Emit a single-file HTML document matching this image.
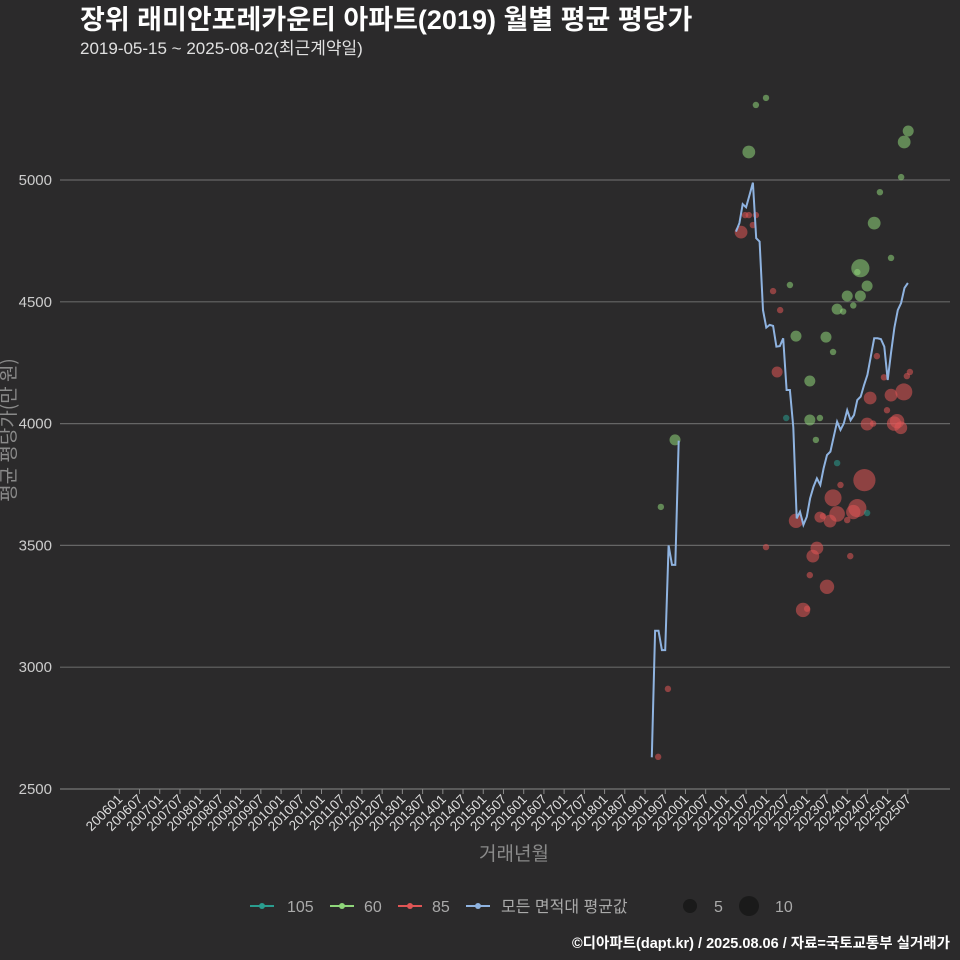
<!DOCTYPE html>
<html><head><meta charset="utf-8"><style>
body{margin:0;background:#2b2a2b;}
svg{display:block;font-family:"Liberation Sans","Noto Sans CJK KR",sans-serif;}
</style></head><body>
<svg id="chart" width="960" height="960" viewBox="0 0 960 960">
<rect width="960" height="960" fill="#2b2a2b"/>
<text x="80" y="29" fill="#ffffff" font-size="27" font-weight="bold">장위 래미안포레카운티 아파트(2019) 월별 평균 평당가</text>
<text x="80" y="54" fill="#e0e0e0" font-size="17">2019-05-15 ~ 2025-08-02(최근계약일)</text>
<g id="grid"></g>
<g id="yticks"></g>
<g id="xticks"></g>
<g id="points"></g>
<path id="avgline" fill="none" stroke="#8fb3e0" stroke-width="2"/>
<text transform="translate(15,430) rotate(-90)" text-anchor="middle" fill="#8a8a8a" font-size="19" style='font-family:"Noto Sans CJK KR",sans-serif'>평균 평당가(만 원)</text>
<text x="514" y="860" text-anchor="middle" fill="#8a8a8a" font-size="19">거래년월</text>
<g font-size="16" fill="#aaaaaa">
 <g><line x1="250" y1="906" x2="274" y2="906" stroke="#2a9d8f" stroke-width="2"/><circle cx="262" cy="906" r="3" fill="#2a9d8f"/><text x="287" y="912">105</text></g>
 <g><line x1="330" y1="906" x2="354" y2="906" stroke="#8fd67a" stroke-width="2"/><circle cx="342" cy="906" r="3" fill="#8fd67a"/><text x="364" y="912">60</text></g>
 <g><line x1="398" y1="906" x2="422" y2="906" stroke="#e05555" stroke-width="2"/><circle cx="410" cy="906" r="3" fill="#e05555"/><text x="432" y="912">85</text></g>
 <g><line x1="466" y1="906" x2="490" y2="906" stroke="#8fb3e0" stroke-width="2"/><circle cx="478" cy="906" r="3" fill="#8fb3e0"/><text x="501" y="912">모든 면적대 평균값</text></g>
 <g><circle cx="690" cy="906" r="7" fill="#1a1a1a"/><text x="714" y="912">5</text></g>
 <g><circle cx="749" cy="906" r="10" fill="#1a1a1a"/><text x="775" y="912">10</text></g>
</g>
<text x="950" y="948" text-anchor="end" fill="#ffffff" font-size="14.5" font-weight="bold">©디아파트(dapt.kr) / 2025.08.06 / 자료=국토교통부 실거래가</text>
</svg>
<script>
const yTicks=[2500,3000,3500,4000,4500,5000];
const lineStart="202104";
const lineA_start="201903";
const lineA=[2630,3150,3150,3070,3070,3500,3420,3420,3930];
const lineB=[4788,4823,4901,4888,4938,4989,4761,4747,4466,4394,4405,4401,4316,4318,4350,4138,4138,3985,3611,3638,3584,3618,3693,3741,3775,3748,3816,3871,3885,3946,4008,3974,4001,4055,4014,4035,4097,4111,4159,4200,4275,4350,4350,4347,4316,4179,4290,4394,4466,4495,4557,4577];
// scatter: month offset (months since 200601), value, count, type
const ptMonth=[160.7,164.9,186.8,188.9,191.9,199.0,200.8,204.9,204.9,206.7,207.9,209.7,211.8,213.0,214.8,216.0,217.8,219.0,219.9,221.9,219.9,224.0,225.7,229.0,232.0,232.9,234.1,
 159.9,162.8,184.5,185.7,186.8,188.9,188.0,191.9,194.0,195.2,196.1,200.8,202.9,204.1,204.9,205.8,207.0,207.9,208.8,210.0,210.9,213.0,211.8,214.0,216.0,216.9,219.0,217.8,221.1,221.9,222.8,223.7,224.8,226.9,227.8,229.0,229.9,230.8,231.9,232.8,233.7,234.6,
 197.9,213.0,221.9];
const ptValue=[3658,3933,5115,5308,5337,4569,4359,4175,4015,3933,4023,4355,4294,4470,4460,4524,4485,4622,4638,4565,4524,4823,4950,4680,5012,5156,5201,
 2632,2911,4786,4856,4856,4856,4815,3493,4544,4212,4466,3601,3235,3240,3378,3456,3489,3616,3620,3330,3600,3629,3695,3748,3604,3456,3653,3637,3768,3998,4105,4000,4277,4190,4055,4117,4000,4010,3983,4130,4195,4212,
 4023,3838,3633];
const ptCount=[1,3,4,1,1,1,3,3,3,1,1,3,1,3,1,3,1,1,8,3,3,4,1,1,1,4,3,
 1,1,4,1,1,1,1,1,1,3,1,5,5,1,1,4,4,3,1,5,4,6,7,1,1,1,8,5,12,4,4,1,1,1,1,4,5,5,4,7,1,1,
 1,1,1];
const ptType=["60","60","60","60","60","60","60","60","60","60","60","60","60","60","60","60","60","60","60","60","60","60","60","60","60","60","60",
 "85","85","85","85","85","85","85","85","85","85","85","85","85","85","85","85","85","85","85","85","85","85","85","85","85","85","85","85","85","85","85","85","85","85","85","85","85","85","85","85","85","85",
 "105","105","105"];
const colors={"60":"#8fd67a","85":"#e05555","105":"#2a9d8f"};
const NS="http://www.w3.org/2000/svg";
const X0=119.3,MPX=20.22/6;
function xm(m){return X0+m*MPX;}
function monthIdx(s){return (parseInt(s.slice(0,4))-2006)*12+parseInt(s.slice(4))-1;}
function y(v){return 789-(v-2500)/500*121.8;}
const grid=document.getElementById('grid'),yt=document.getElementById('yticks'),xt=document.getElementById('xticks');
yTicks.forEach(v=>{
 const l=document.createElementNS(NS,'line');
 l.setAttribute('x1',60);l.setAttribute('x2',950);l.setAttribute('y1',y(v));l.setAttribute('y2',y(v));
 l.setAttribute('stroke',v===2500?'#777':'#666');l.setAttribute('stroke-width',1.2);
 
 
 grid.appendChild(l);
 const t=document.createElementNS(NS,'text');
 t.setAttribute('x',52);t.setAttribute('y',y(v)+5);t.setAttribute('text-anchor','end');t.setAttribute('fill','#cccccc');t.setAttribute('font-size','15');
 t.textContent=v;
 
 
 yt.appendChild(t);
});
for(let i=0;i<40;i++){
 const yr=2006+Math.floor(i/2),mo=i%2?'07':'01';
 const lab=yr+mo,x=xm(i*6);
 const tk=document.createElementNS(NS,'line');
 tk.setAttribute('x1',x);tk.setAttribute('x2',x);tk.setAttribute('y1',789);tk.setAttribute('y2',794);tk.setAttribute('stroke','#888');
 
 
 xt.appendChild(tk);
 const t=document.createElementNS(NS,'text');
 t.setAttribute('transform','translate('+(x+4)+',800) rotate(-45)');
 t.setAttribute('text-anchor','end');t.setAttribute('fill','#dddddd');t.setAttribute('font-size','13.5');
 t.textContent=lab;
 
 
 xt.appendChild(t);
}
const pg=document.getElementById('points');
ptMonth.forEach((m,i)=>{
 const c=document.createElementNS(NS,'circle');
 c.setAttribute('cx',xm(m));c.setAttribute('cy',y(ptValue[i]));
 c.setAttribute('r',(3.2*Math.sqrt(ptCount[i])).toFixed(1));
 c.setAttribute('fill',colors[ptType[i]]);c.setAttribute('fill-opacity','0.55');
 
 
 pg.appendChild(c);
});
let d='';
const a0=monthIdx(lineA_start);
lineA.forEach((v,i)=>{d+=(i?'L':'M')+xm(a0+i).toFixed(1)+','+y(v).toFixed(1);});
const b0=monthIdx(lineStart);
lineB.forEach((v,i)=>{d+=(i?'L':'M')+xm(b0+i).toFixed(1)+','+y(v).toFixed(1);});
document.getElementById('avgline').setAttribute('d',d);
</script>
</body></html>
